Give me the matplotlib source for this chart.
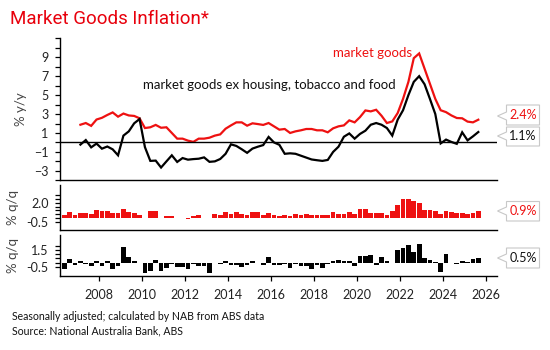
import numpy as np
import pandas as pd
import matplotlib
matplotlib.use("Agg")
import matplotlib.pyplot as plt
from matplotlib.patches import Polygon
from matplotlib.ticker import FixedLocator, MultipleLocator

# ---------------- data ----------------
title = "Market Goods Inflation*"
line_start = "2007Q1"
bar_start = "2006Q2"

market_goods_yy = [
    1.87, 2.05, 1.75, 2.42, 2.60, 2.90, 3.17, 2.72, 3.05, 2.85,
    2.80, 2.55, 1.52, 1.60, 1.85, 1.55, 1.60, 1.00, 0.40, 0.40,
    0.19, 0.06, 0.40, 0.40, 0.50, 0.72, 0.85, 1.45, 1.80, 2.12,
    2.12, 1.77, 2.02, 1.94, 1.85, 2.05, 1.70, 1.35, 1.42, 1.00,
    1.17, 1.28, 1.42, 1.42, 1.28, 1.28, 1.07, 1.49, 1.70, 1.80,
    2.33, 2.12, 2.68, 3.38, 3.28, 3.45, 2.82, 2.05, 2.22, 3.10,
    4.60, 6.40, 8.90, 9.40, 7.80, 6.20, 4.60, 3.40, 3.20, 2.85,
    2.58, 2.55, 2.20, 2.12, 2.40,
]
market_goods_ex_yy = [
    -0.23, 0.25, -0.52, -0.12, -0.66, -0.43, -0.73, -1.36, 0.72, 1.17,
    2.02, 2.47, -0.50, -1.95, -1.92, -2.65, -2.00, -1.36, -2.06, -1.65,
    -1.82, -1.76, -1.72, -1.58, -2.05, -2.00, -1.75, -1.20, -0.20, -0.37,
    -0.72, -1.10, -0.65, -0.45, -0.28, 0.58, 0.00, -0.25, -1.20, -1.15,
    -1.20, -1.40, -1.60, -1.80, -1.88, -1.95, -1.85, -1.00, -0.45, 0.60,
    0.95, 0.40, 0.90, 1.24, 1.87, 2.05, 1.87, 1.52, 0.72, 2.40,
    3.40, 5.00, 6.40, 7.00, 6.15, 4.60, 3.00, -0.10, 0.30, 0.05,
    -0.15, 1.07, 0.22, 0.64, 1.10,
]
market_goods_qq = [
    0.38, 0.78, 0.42,
    0.64, 0.60, 0.51, 1.08, 0.90, 0.95, 0.69, 0.64, 1.17, 0.78,
    0.64, 0.42, 0.00, 0.86, 0.86, 0.00, 0.25, 0.25, 0.05, 0.05,
    -0.10, 0.30, 0.42, 0.05, 0.05, 0.51, 0.42, 0.73, 0.47, 0.82,
    0.51, 0.42, 0.73, 0.73, 0.42, 0.69, 0.34, 0.25, 0.42, 0.25,
    0.55, 0.42, 0.55, 0.34, 0.34, 0.42, 0.34, 0.73, 0.55, 0.55,
    0.78, 0.47, 1.21, 1.17, 0.69, 0.69, 0.60, 0.34, 0.86, 1.70,
    2.53, 2.53, 2.27, 1.92, 1.04, 1.04, 0.86, 0.51, 0.86, 0.73,
    0.64, 0.60, 0.47, 0.64, 0.95,
]
market_goods_ex_qq = [
    -0.70, 0.42, -0.30,
    0.20, -0.10, -0.42, 0.26, -0.38, 0.15, -0.70, -0.42, 1.86, 0.62,
    0.15, -0.05, -1.20, -0.94, 0.30, -0.94, -0.58, -0.10, -0.55, -0.55,
    -0.74, -0.10, -0.42, -0.42, -1.20, -0.05, -0.20, 0.15, -0.25, -0.25,
    -0.50, -0.25, 0.25, 0.00, -0.30, 0.70, -0.30, -0.30, -0.10, -0.60,
    -0.10, -0.42, -0.42, -0.74, -0.30, -0.60, -0.20, 0.15, 0.28, 0.20,
    0.20, -0.42, 0.78, 0.78, 0.86, -0.30, 0.70, 0.25, 0.00, 1.53,
    1.74, 2.10, 1.30, 2.20, 0.60, 0.30, 0.10, -1.10, 1.02, -0.05,
    -0.10, 0.20, 0.05, 0.42, 0.50,
]
x_tick_years = [2008, 2010, 2012, 2014, 2016, 2018, 2020, 2022, 2024, 2026]
yy_tick_labels = [-3, -1, 1, 3, 5, 7, 9]
qq1_tick_labels = [-0.5, 2.0]
qq2_tick_labels = [-0.5, 1.5]
label_mg = "market goods"
label_ex = "market goods ex housing, tobacco and food"
ylabel_yy = "% y/y"
ylabel_qq = "% q/q"
notes = ["Seasonally adjusted; calculated by NAB from ABS data",
         "Source: National Australia Bank, ABS"]

# ---------------- styling ----------------
RED = "#ee1111"
BLACK = "#000000"
FONT = ["Lato", "DejaVu Sans"]
plt.rcParams["font.family"] = FONT
plt.rcParams["axes.linewidth"] = 1.0

W, H = 550, 350
fig = plt.figure(figsize=(W / 100, H / 100), dpi=100)


def rect(x0, y0, x1, y1):
    return [x0 / W, 1 - y1 / H, (x1 - x0) / W, (y1 - y0) / H]


def quarter_positions(start, n):
    p = pd.period_range(start, periods=n, freq="Q")
    return np.asarray(p.year + (p.quarter - 1) * 0.25 + 0.125, dtype=float)


x_line = quarter_positions(line_start, len(market_goods_yy))
x_bar = quarter_positions(bar_start, len(market_goods_qq))
XLIM = (2006.19, 2026.48)

ax1 = fig.add_axes(rect(60.3, 38.3, 496.7, 180.3))
ax2 = fig.add_axes(rect(60.3, 185, 496.7, 230))
ax3 = fig.add_axes(rect(60.3, 235, 496.7, 275.7))

for ax in (ax1, ax2, ax3):
    ax.set_xlim(*XLIM)
    ax.spines["top"].set_visible(False)
    ax.spines["right"].set_visible(False)
    ax.tick_params(axis="y", which="both", direction="out", length=3.5,
                   width=0.9, pad=5, labelsize=9, labelcolor="#222222")
    ax.set_facecolor("none")

# main panel
ax1.plot(x_line, market_goods_yy, color=RED, lw=1.6, solid_joinstyle="miter")
ax1.plot(x_line, market_goods_ex_yy, color=BLACK, lw=1.6, solid_joinstyle="miter")
ax1.axhline(0, color=BLACK, lw=1.0)
ax1.set_ylim(-4, 11)
ax1.yaxis.set_major_locator(FixedLocator(yy_tick_labels))
ax1.yaxis.set_minor_locator(MultipleLocator(1))
ax1.tick_params(axis="y", which="minor", length=3.5, width=0.9)
ax1.tick_params(axis="x", bottom=False, labelbottom=False)
ax1.set_ylabel(ylabel_yy, fontsize=9.5, color="#444444", labelpad=6)
ax1.text(2018.87, 9.48, label_mg, color=RED, fontsize=9.5, va="center", ha="left")
ax1.text(2010.02, 6.08, label_ex, color="#111111", fontsize=9.5, va="center", ha="left")

# q/q panels
bw = 0.22
ax2.bar(x_bar, market_goods_qq, width=bw, color=RED, linewidth=0)
ax2.set_ylim(-1.6, 4.35)
ax2.yaxis.set_major_locator(FixedLocator(qq1_tick_labels))
ax2.yaxis.set_minor_locator(FixedLocator(np.arange(-0.5, 3.01, 0.5)))
ax2.yaxis.set_major_formatter(plt.FuncFormatter(lambda v, p: f"{v:.1f}"))
ax2.tick_params(axis="y", which="minor", length=3.5, width=0.9)
ax2.tick_params(axis="x", bottom=False, labelbottom=False)
ax2.set_ylabel(ylabel_qq, fontsize=9.5, color="#444444", labelpad=3)

ax3.bar(x_bar, market_goods_ex_qq, width=bw, color=BLACK, linewidth=0)
ax3.set_ylim(-1.55, 3.3)
ax3.yaxis.set_major_locator(FixedLocator(qq2_tick_labels))
ax3.yaxis.set_minor_locator(FixedLocator(np.arange(-0.5, 2.01, 0.5)))
ax3.yaxis.set_major_formatter(plt.FuncFormatter(lambda v, p: f"{v:.1f}"))
ax3.tick_params(axis="y", which="minor", length=3.5, width=0.9)
ax3.set_xticks(x_tick_years)
ax3.set_xticklabels([str(y) for y in x_tick_years])
ax3.tick_params(axis="x", direction="out", length=3.5, width=0.9, pad=6,
                labelsize=9, labelcolor="#222222")
ax3.set_ylabel(ylabel_qq, fontsize=9.5, color="#444444", labelpad=3)

# align y labels
for ax, xpix in ((ax1, 27), (ax2, 19), (ax3, 19)):
    ax.yaxis.set_label_coords((xpix - 60.3) / (496.7 - 60.3), 0.5)


# callouts
def callout(tip_y, box_y0, box_y1, text, color):
    tip_x, bx0, bx1 = 497.5, 506.5, 539.5
    half = 4.0
    pts = [(bx0, box_y0), (bx1, box_y0), (bx1, box_y1), (bx0, box_y1),
           (bx0, tip_y + half), (tip_x, tip_y), (bx0, tip_y - half)]
    pts = [(x / W, 1 - y / H) for x, y in pts]
    fig.patches.append(Polygon(pts, closed=True, transform=fig.transFigure,
                               facecolor="white", edgecolor="#c8c8c8", lw=0.8))
    fig.text((bx0 + bx1) / 2 / W, 1 - (box_y0 + box_y1) / 2 / H, text,
             color=color, fontsize=9, ha="center", va="center")


callout(116, 105, 125, f"{market_goods_yy[-1]:.1f}%", RED)
callout(136, 127, 146, f"{market_goods_ex_yy[-1]:.1f}%", "#111111")
callout(211, 201.5, 221, f"{market_goods_qq[-1]:.1f}%", RED)
callout(258, 248, 268, f"{market_goods_ex_qq[-1]:.1f}%", "#111111")

# title and notes
fig.text(10 / W, 1 - 18.5 / H, title, color="#e8000c", fontsize=13.5,
         family=["Roboto", "DejaVu Sans"], va="center", ha="left")
fig.text(12 / W, 1 - 316.5 / H, notes[0], fontsize=7.6, color="#111111",
         va="center", ha="left")
fig.text(12 / W, 1 - 331 / H, notes[1], fontsize=7.6, color="#111111",
         va="center", ha="left")

fig.savefig("out.png", dpi=100)
